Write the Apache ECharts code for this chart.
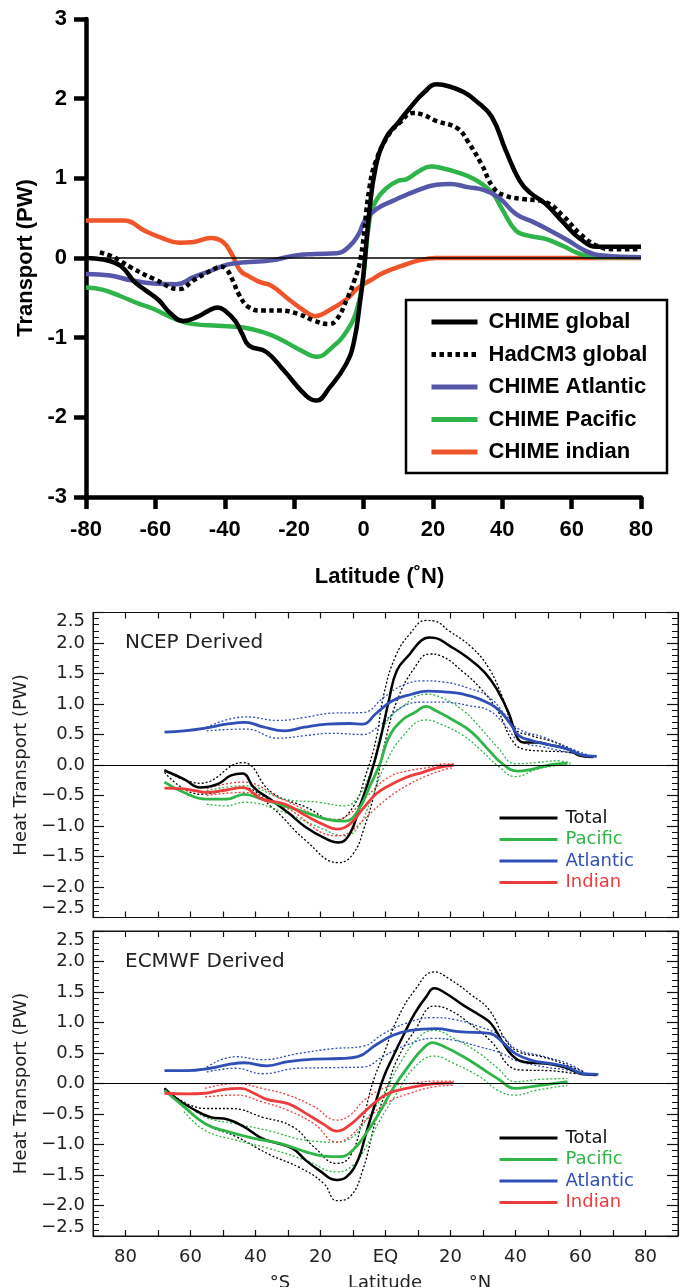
<!DOCTYPE html>
<html>
<head>
<meta charset="utf-8">
<script src="https://cdn.jsdelivr.net/npm/echarts@6/dist/echarts.min.js"></script>
<style>
  html, body { margin: 0; padding: 0; background: #fff; }
  #chart { width: 684px; height: 1287px; }
</style>
</head>
<body>
<div id="chart"></div>
<script>
// ---- top panel: CHIME vs HadCM3, [latitude, PW]
const chimeGlobal = [[-80,0],[-75,-0.02],[-70,-0.1],[-66,-0.3],[-63,-0.4],[-59,-0.53],[-56,-0.68],[-52,-0.79],[-48,-0.74],[-45,-0.67],[-42,-0.62],[-40,-0.66],[-37,-0.79],[-35,-0.95],[-33,-1.1],[-28,-1.18],[-23,-1.41],[-16.5,-1.73],[-13.5,-1.79],[-10,-1.64],[-5,-1.33],[-2.7,-1.04],[-1,-0.55],[0,-0.2],[1.5,0.5],[3.5,1.14],[6.5,1.51],[10,1.7],[13.5,1.89],[17.5,2.08],[21,2.18],[25,2.15],[29,2.08],[32.5,1.97],[37,1.77],[41,1.35],[45,0.97],[48,0.82],[52.5,0.68],[57.5,0.45],[62.5,0.24],[67.5,0.14],[80,0.14]]
const hadcm3Global = [[-76,0.07],[-72,0.01],[-67,-0.12],[-60.5,-0.26],[-53,-0.39],[-49,-0.28],[-44,-0.16],[-41,-0.11],[-39.5,-0.14],[-37.5,-0.3],[-36,-0.45],[-33,-0.62],[-29,-0.66],[-24,-0.66],[-19,-0.7],[-14,-0.79],[-10,-0.83],[-7.7,-0.77],[-4.6,-0.5],[-2.7,-0.29],[-0.8,0],[1.7,0.88],[3.6,1.22],[7.3,1.55],[10.5,1.7],[14.3,1.82],[17,1.8],[21,1.72],[27,1.63],[30,1.47],[34,1.18],[37.5,0.88],[41,0.78],[46,0.74],[52.5,0.7],[57.5,0.53],[62.5,0.3],[67.5,0.15],[72.5,0.11],[80,0.11]]
const chimeAtlantic = [[-80,-0.2],[-73,-0.22],[-67,-0.28],[-60.5,-0.32],[-54,-0.33],[-49,-0.24],[-44,-0.16],[-39,-0.08],[-33,-0.05],[-26.5,-0.03],[-20,0.03],[-14,0.05],[-7.7,0.06],[-4,0.15],[-1.4,0.3],[0.4,0.47],[3.6,0.61],[8.6,0.72],[15,0.84],[21,0.92],[25,0.93],[30,0.89],[35,0.85],[39,0.76],[44,0.55],[49,0.45],[54,0.34],[59,0.22],[64,0.09],[69,0.03],[80,0.01]]
const chimePacific = [[-80,-0.37],[-75,-0.4],[-70,-0.48],[-65,-0.57],[-60.5,-0.64],[-54,-0.77],[-49,-0.83],[-42,-0.85],[-35,-0.87],[-29,-0.93],[-24,-1.02],[-18,-1.16],[-13.5,-1.24],[-9,-1.12],[-5,-0.93],[-2,-0.66],[-0.2,-0.29],[1.7,0.47],[3.6,0.72],[6.7,0.88],[10,0.97],[12.5,0.99],[16,1.09],[19.5,1.15],[22.5,1.13],[27.5,1.07],[32,0.99],[35,0.9],[37.5,0.8],[40,0.61],[44,0.34],[47.5,0.28],[52.5,0.24],[57.5,0.15],[62.5,0.05],[67.5,0.01],[80,0.01]]
const chimeIndian = [[-80,0.47],[-69,0.47],[-63,0.34],[-58,0.25],[-53,0.19],[-49,0.2],[-44,0.25],[-40.5,0.2],[-38,0.05],[-35.5,-0.16],[-33,-0.23],[-30,-0.3],[-26.5,-0.35],[-21.5,-0.52],[-16.5,-0.68],[-14,-0.73],[-10,-0.66],[-5,-0.52],[-1.4,-0.37],[2,-0.28],[6,-0.18],[11,-0.1],[16,-0.03],[21,0],[80,0]]

// ---- middle panel: NCEP derived (mean, upper, lower)
const ncepTot = [[-68,-0.09],[-62,-0.23],[-57,-0.37],[-51.5,-0.31],[-47.5,-0.17],[-44,-0.14],[-40.5,-0.37],[-35,-0.58],[-30,-0.78],[-24.5,-1.02],[-19,-1.19],[-14.5,-1.27],[-11,-1.13],[-8,-0.69],[-4.5,-0.15],[-1.7,0.4],[1,1.05],[3.5,1.55],[7.5,1.82],[11,2.04],[13.5,2.09],[15.5,2.08],[19.5,1.96],[25,1.77],[30.5,1.52],[34.5,1.22],[38,0.84],[40.5,0.45],[42.5,0.37],[46.5,0.37],[50.5,0.33],[56,0.26],[60,0.15],[64,0.13]]
const ncepTotHi = [[-68,-0.08],[-57,-0.3],[-44,0.04],[-35,-0.45],[-24.5,-0.69],[-15.5,-0.91],[-10,-0.69],[-6,-0.15],[-3,0.4],[-0.5,1.16],[3,1.77],[7.5,2.15],[12.5,2.37],[15,2.36],[19.5,2.2],[26.5,1.93],[32,1.57],[36,1.11],[40,0.59],[45,0.48],[50.5,0.4],[56,0.29],[61,0.15]]
const ncepTotLo = [[-68,-0.12],[-57,-0.48],[-44,-0.37],[-35,-0.69],[-24.5,-1.24],[-14.5,-1.6],[-10,-1.46],[-6.5,-1.02],[-3,-0.37],[-0.5,0.29],[3.5,1.05],[9,1.6],[13.5,1.82],[17,1.79],[24,1.52],[29,1.27],[34.5,0.89],[39,0.4],[42.5,0.26],[48,0.23],[56,0.21],[63,0.13]]
const ncepPac = [[-68,-0.28],[-62,-0.45],[-55,-0.56],[-49,-0.56],[-43.5,-0.48],[-38,-0.56],[-31,-0.67],[-24.5,-0.78],[-18,-0.89],[-12.5,-0.92],[-8.5,-0.75],[-4.5,-0.31],[-1.7,0.02],[1,0.45],[5,0.73],[9,0.86],[12.5,0.96],[15.5,0.89],[21,0.73],[26.5,0.54],[32,0.23],[36,0.02],[40.5,-0.1],[45,-0.07],[50.5,0],[56,0.03]]
const ncepPacHi = [[-55,-0.42],[-43.5,-0.34],[-31,-0.56],[-20.5,-0.61],[-12.5,-0.67],[-8.5,-0.53],[-4.5,-0.09],[-0.5,0.62],[5,0.95],[12.5,1.16],[17,1.11],[24,0.89],[29,0.62],[34.5,0.29],[40,0.02],[46.5,0.04],[53,0.07],[57,0.03]]
const ncepPacLo = [[-55,-0.64],[-49,-0.67],[-43.5,-0.61],[-31,-0.78],[-20.5,-1.02],[-12.5,-1.16],[-8.5,-1.02],[-4.5,-0.58],[-0.5,-0.04],[5,0.45],[12.5,0.74],[17,0.67],[24,0.48],[29,0.26],[34.5,-0.01],[40,-0.19],[46.5,-0.07],[53,-0.01],[57,0]]
const ncepAtl = [[-68,0.54],[-62,0.56],[-55,0.61],[-49,0.67],[-43,0.7],[-38,0.63],[-31,0.56],[-25,0.62],[-18,0.67],[-11,0.68],[-7,0.67],[-3,0.84],[2,1.05],[8,1.16],[13,1.21],[18,1.2],[24,1.16],[29,1.08],[34.5,0.92],[38.5,0.67],[41,0.48],[45,0.4],[50.5,0.33],[56,0.26],[60,0.17],[65,0.14]]
const ncepAtlHi = [[-55,0.62],[-43,0.79],[-33,0.73],[-25,0.78],[-16.5,0.85],[-7,0.86],[-0.5,1.11],[5,1.3],[11.5,1.38],[18,1.36],[26,1.25],[32,1.11],[37,0.81],[41,0.59],[49,0.45],[56,0.29],[63,0.15]]
const ncepAtlLo = [[-55,0.56],[-43,0.59],[-33,0.44],[-25,0.48],[-16.5,0.52],[-7,0.5],[-2,0.64],[5,0.95],[11.5,1.03],[18,1.03],[26,0.97],[32,0.89],[37,0.64],[41,0.4],[49,0.29],[56,0.21],[63,0.13]]
const ncepInd = [[-68,-0.38],[-62,-0.39],[-55,-0.45],[-49,-0.41],[-44,-0.37],[-38,-0.56],[-31,-0.64],[-24.5,-0.83],[-19,-0.98],[-15,-1.05],[-11,-0.97],[-7,-0.72],[-3,-0.48],[1,-0.34],[6.5,-0.2],[11.5,-0.12],[15.5,-0.05],[21,0]]
const ncepIndHi = [[-55,-0.39],[-44,-0.28],[-31,-0.58],[-15,-0.89],[-11,-0.8],[-6,-0.53],[1,-0.2],[7.5,-0.09],[13,-0.04],[18.5,0.02],[21,0.02]]
const ncepIndLo = [[-55,-0.5],[-44,-0.45],[-31,-0.69],[-15,-1.16],[-11,-1.1],[-6,-0.86],[1,-0.53],[7.5,-0.31],[13,-0.17],[18.5,-0.07],[21,-0.04]]

// ---- bottom panel: ECMWF derived
const ecTot = [[-68,-0.08],[-65,-0.22],[-59.5,-0.41],[-54,-0.55],[-48.5,-0.59],[-43.5,-0.71],[-38,-0.9],[-34,-0.97],[-28.5,-1.07],[-24.5,-1.26],[-20.5,-1.42],[-15,-1.58],[-12,-1.53],[-8.5,-1.26],[-6,-0.82],[-3,-0.3],[-0.5,0.11],[2.3,0.44],[5.5,0.79],[9,1.15],[12.5,1.42],[15,1.56],[18.5,1.48],[24,1.28],[29,1.12],[32.5,0.98],[36,0.68],[38.5,0.49],[41,0.38],[45,0.34],[50.5,0.32],[56,0.25],[61,0.15],[65,0.14]]
const ecTotHi = [[-68,-0.08],[-55.5,-0.41],[-47.5,-0.41],[-38,-0.55],[-28.5,-0.71],[-22,-1.04],[-15,-1.31],[-11,-1.2],[-7,-0.6],[-4,0],[-0.5,0.49],[3.5,1.04],[9,1.53],[15,1.83],[19.5,1.72],[26.5,1.45],[32,1.2],[37,0.71],[41,0.52],[48,0.44],[54.5,0.33],[61,0.19]]
const ecTotLo = [[-68,-0.1],[-55.5,-0.66],[-46,-0.87],[-35.5,-1.17],[-26,-1.39],[-19,-1.64],[-15,-1.92],[-11,-1.86],[-7,-1.42],[-3,-0.6],[0.3,-0.11],[3.5,0.38],[9,0.87],[15,1.27],[19.5,1.21],[26.5,0.96],[33,0.66],[38.5,0.27],[42.5,0.22],[50.5,0.21],[58.5,0.16]]
const ecPac = [[-68,-0.11],[-62,-0.38],[-55.5,-0.66],[-48.5,-0.79],[-40.5,-0.9],[-32.5,-0.98],[-24.5,-1.12],[-19,-1.19],[-14,-1.2],[-10,-1.09],[-6,-0.82],[-1.7,-0.46],[2.3,-0.08],[7.7,0.33],[11.5,0.57],[14.5,0.67],[17,0.63],[24,0.44],[29,0.27],[34.5,0.08],[40,-0.08],[45,-0.05],[50.5,-0.01],[56,0.03]]
const ecPacHi = [[-62,-0.3],[-55.5,-0.55],[-46,-0.66],[-35.5,-0.78],[-24.5,-0.93],[-15,-0.96],[-10,-0.87],[-6,-0.6],[-0.5,-0.16],[5,0.38],[10.5,0.77],[15,0.87],[21,0.74],[29,0.49],[34.5,0.25],[40,0.03],[48,0.07],[56,0.08]]
const ecPacLo = [[-62,-0.46],[-55.5,-0.77],[-46,-0.93],[-35.5,-1.07],[-24.5,-1.26],[-15,-1.45],[-10,-1.34],[-6,-1.04],[-1.7,-0.6],[3.5,-0.16],[9,0.27],[15,0.45],[21,0.33],[29,0.11],[34.5,-0.11],[40,-0.19],[46.5,-0.11],[56,-0.03]]
const ecAtl = [[-68,0.21],[-61,0.21],[-54,0.25],[-47.5,0.32],[-43.5,0.34],[-36.5,0.29],[-30,0.36],[-22,0.4],[-14,0.41],[-8.5,0.44],[-3,0.63],[2.3,0.79],[7.7,0.87],[15.5,0.9],[22.5,0.85],[32,0.82],[36,0.68],[40,0.49],[45,0.38],[50.5,0.33],[56,0.27],[61,0.16],[65.5,0.15]]
const ecAtlHi = [[-55,0.27],[-46,0.44],[-38,0.39],[-27,0.49],[-16.5,0.57],[-7,0.61],[-0.5,0.82],[6.5,0.99],[14.5,1.08],[21,1.05],[29,0.93],[36,0.77],[40,0.57],[49,0.44],[56,0.33],[61,0.19]]
const ecAtlLo = [[-55,0.19],[-46,0.25],[-38,0.16],[-27,0.25],[-16.5,0.26],[-7,0.27],[-0.5,0.45],[6.5,0.63],[14.5,0.74],[21,0.71],[29,0.6],[36,0.49],[40,0.38],[49,0.27],[56,0.22],[61,0.14]]
const ecInd = [[-68,-0.16],[-61,-0.17],[-55.5,-0.16],[-50,-0.1],[-44.5,-0.08],[-40.5,-0.16],[-36.5,-0.26],[-30,-0.33],[-24.5,-0.49],[-19,-0.67],[-15,-0.78],[-11,-0.68],[-7,-0.49],[-3,-0.3],[1,-0.16],[6.5,-0.08],[11.5,-0.03],[15.5,0],[21,0.01]]
const ecIndHi = [[-55.5,-0.08],[-46,0],[-38,-0.08],[-30,-0.19],[-22,-0.38],[-15,-0.6],[-11,-0.52],[-6,-0.25],[1,-0.05],[7.5,0],[15.5,0.04],[21,0.04]]
const ecIndLo = [[-55.5,-0.22],[-46,-0.19],[-38,-0.3],[-30,-0.44],[-22,-0.66],[-15,-0.96],[-11,-0.87],[-6,-0.6],[1,-0.3],[7.5,-0.16],[15.5,-0.05],[21,-0.03]]

// tick labels
const latTicks = [-80, -60, -40, -20, 0, 20, 40, 60, 80]
const latLabels = ['80', '60', '40', '20', 'EQ', '20', '40', '60', '80']
const pwTicks = [-2.5, -2, -1.5, -1, -0.5, 0, 0.5, 1, 1.5, 2, 2.5]
const pwLabels = ['\u22122.5', '\u22122.0', '\u22121.5', '\u22121.0', '\u22120.5', '0.0', '0.5', '1.0', '1.5', '2.0', '2.5']

const C = {
    black: '#000',
    atlTop: '#5657a8',
    pacTop: '#2fb34b',
    indTop: '#f0552a',
    blue: '#2f4fb6',
    green: '#2fb548',
    red: '#ee3b3b'
}
const boldFont = "'Liberation Sans', Arial, sans-serif"
const idlFont = "'DejaVu Sans', sans-serif"
// hide the round marker ECharts puts on line legend icons
const noMarker = { color: 'transparent', borderColor: 'transparent', borderWidth: 0 }

let chart = echarts.init(document.getElementById('chart'), null, { renderer: 'canvas' })

function mkLine (name, data, axis, color, width, dash, z) {
    return {
        type: 'line',
        name: name,
        data: data,
        xAxisIndex: axis,
        yAxisIndex: axis,
        symbol: 'none',
        showSymbol: false,
        smooth: 0.45,
        silent: true,
        z: z || 2,
        lineStyle: { color: color, width: width, type: dash || 'solid', cap: 'butt', join: 'round' },
        itemStyle: { color: color }
    }
}

function zeroLine (axis, width) {
    return {
        type: 'line',
        data: [],
        xAxisIndex: axis,
        yAxisIndex: axis,
        silent: true,
        markLine: {
            silent: true,
            symbol: 'none',
            label: { show: false },
            lineStyle: { color: '#000', width: width, type: 'solid' },
            data: [{ yAxis: 0 }]
        }
    }
}

// lower two panels share one style of x axis
function latAxis (grid, pos, showLabels) {
    return {
        type: 'value', gridIndex: grid, position: pos, min: -90, max: 90, interval: 10,
        axisLine: { onZero: false, lineStyle: { color: '#111', width: 1 } },
        axisTick: { inside: true, length: 6, lineStyle: { color: '#111', width: 1.2 } },
        axisLabel: {
            show: showLabels, margin: 12, color: '#222', fontFamily: idlFont, fontSize: 18,
            formatter: function (v) {
                let i = latTicks.indexOf(v)
                return i >= 0 ? latLabels[i] : ''
            }
        },
        splitLine: { show: false }
    }
}

function pwAxis (grid, pos, showLabels) {
    return {
        type: 'value', gridIndex: grid, position: pos, min: -2.5, max: 2.5, interval: 0.5,
        axisLine: { onZero: false, lineStyle: { color: '#111', width: 1 } },
        axisTick: { inside: true, length: 11, lineStyle: { color: '#111', width: 1.2 } },
        minorTick: { show: true, splitNumber: 5, length: 6, lineStyle: { color: '#111', width: 1 } },
        axisLabel: {
            show: showLabels, margin: 8, color: '#222', fontFamily: idlFont, fontSize: 18,
            verticalAlignMaxLabel: 'top', verticalAlignMinLabel: 'bottom',
            formatter: function (v) {
                let i = pwTicks.findIndex(t => Math.abs(t - v) < 1e-6)
                return i >= 0 ? pwLabels[i] : ''
            }
        },
        name: showLabels ? 'Heat Transport (PW)' : '',
        nameLocation: 'middle', nameRotate: 90, nameGap: 60,
        nameTextStyle: { fontFamily: idlFont, fontSize: 18, color: '#222' },
        splitLine: { show: false }
    }
}

function basinLegend (top) {
    return {
        left: 493, top: top, orient: 'vertical',
        itemWidth: 58, itemHeight: 20, itemGap: 1.5,
        itemStyle: noMarker,
        lineStyle: { width: 3 },
        textStyle: { fontFamily: idlFont, fontSize: 18, lineHeight: 20, color: '#111', padding: [0, 0, 0, 3] },
        data: [
            { name: 'Total' },
            { name: 'Pacific', textStyle: { color: C.green } },
            { name: 'Atlantic', textStyle: { color: C.blue } },
            { name: 'Indian', textStyle: { color: C.red } }
        ]
    }
}

const gridBox = { show: true, borderColor: '#111', borderWidth: 1, backgroundColor: 'transparent' }

chart.setOption({
    animation: false,
    backgroundColor: '#fff',
    grid: [
        { left: 86, top: 19, width: 555, height: 478 },
        Object.assign({ left: 93, top: 612.5, width: 585, height: 305 }, gridBox),
        Object.assign({ left: 93, top: 931, width: 585, height: 305 }, gridBox)
    ],
    xAxis: [
        {
            type: 'value', gridIndex: 0, min: -80, max: 80, interval: 20,
            axisLine: { onZero: false, lineStyle: { color: '#000', width: 4.5 } },
            axisTick: { length: 12, lineStyle: { color: '#000', width: 4.5 } },
            axisLabel: { margin: 22, color: '#000', fontFamily: boldFont, fontWeight: 'bold', fontSize: 22 },
            splitLine: { show: false },
            name: 'Latitude (\u02daN)', nameLocation: 'middle', nameGap: 69,
            nameTextStyle: { color: '#000', fontFamily: boldFont, fontWeight: 'bold', fontSize: 22, padding: [0, 0, 0, 32] }
        },
        latAxis(1, 'bottom', false),
        latAxis(2, 'bottom', true),
        latAxis(1, 'top', false),
        latAxis(2, 'top', false)
    ],
    yAxis: [
        {
            type: 'value', gridIndex: 0, min: -3, max: 3, interval: 1,
            axisLine: { onZero: false, lineStyle: { color: '#000', width: 4.5 } },
            axisTick: { length: 12, lineStyle: { color: '#000', width: 4.5 } },
            axisLabel: { margin: 19, color: '#000', fontFamily: boldFont, fontWeight: 'bold', fontSize: 22 },
            splitLine: { show: false },
            name: 'Transport (PW)', nameLocation: 'middle', nameRotate: 90, nameGap: 43,
            nameTextStyle: { color: '#000', fontFamily: boldFont, fontWeight: 'bold', fontSize: 22 }
        },
        pwAxis(1, 'left', true),
        pwAxis(2, 'left', true),
        pwAxis(1, 'right', false),
        pwAxis(2, 'right', false)
    ],
    legend: [
        {
            left: 424, top: 306, orient: 'vertical',
            itemWidth: 46, itemHeight: 22, itemGap: 10.5,
            itemStyle: noMarker,
            lineStyle: { width: 5 },
            textStyle: { fontFamily: boldFont, fontWeight: 'bold', fontSize: 22, lineHeight: 22, color: '#000', padding: [0, 0, 0, 6] },
            data: ['CHIME global', 'HadCM3 global', 'CHIME Atlantic', 'CHIME Pacific', 'CHIME indian']
        },
        basinLegend(803),
        basinLegend(1123)
    ],
    graphic: [
        { type: 'rect', shape: { x: 406, y: 300, width: 261, height: 173 }, style: { fill: 'none', stroke: '#000', lineWidth: 2.5 }, z: 10 },
        { type: 'text', x: 125, y: 643, style: { text: 'NCEP Derived', fontFamily: idlFont, fontSize: 20, fill: '#222', verticalAlign: 'middle' } },
        { type: 'text', x: 125, y: 962, style: { text: 'ECMWF Derived', fontFamily: idlFont, fontSize: 20, fill: '#222', verticalAlign: 'middle' } },
        { type: 'text', x: 280, y: 1283, style: { text: '\u00b0S', fontFamily: idlFont, fontSize: 18, fill: '#222', align: 'center', verticalAlign: 'middle' } },
        { type: 'text', x: 385, y: 1283, style: { text: 'Latitude', fontFamily: idlFont, fontSize: 18, fill: '#222', align: 'center', verticalAlign: 'middle' } },
        { type: 'text', x: 480, y: 1283, style: { text: '\u00b0N', fontFamily: idlFont, fontSize: 18, fill: '#222', align: 'center', verticalAlign: 'middle' } }
    ],
    series: [
        zeroLine(0, 1.5),
        mkLine('CHIME indian', chimeIndian, 0, C.indTop, 4.5),
        mkLine('CHIME Pacific', chimePacific, 0, C.pacTop, 4.5),
        mkLine('CHIME Atlantic', chimeAtlantic, 0, C.atlTop, 4.5),
        mkLine('HadCM3 global', hadcm3Global, 0, C.black, 4.5, [4.5, 3.5]),
        mkLine('CHIME global', chimeGlobal, 0, C.black, 4.5),

        zeroLine(1, 1.2),
        mkLine('', ncepTotHi, 1, C.black, 1.3, [2, 2]),
        mkLine('', ncepTotLo, 1, C.black, 1.3, [2, 2]),
        mkLine('', ncepPacHi, 1, C.green, 1.3, [2, 2]),
        mkLine('', ncepPacLo, 1, C.green, 1.3, [2, 2]),
        mkLine('', ncepAtlHi, 1, C.blue, 1.3, [2, 2]),
        mkLine('', ncepAtlLo, 1, C.blue, 1.3, [2, 2]),
        mkLine('', ncepIndHi, 1, C.red, 1.3, [2, 2]),
        mkLine('', ncepIndLo, 1, C.red, 1.3, [2, 2]),
        mkLine('Total', ncepTot, 1, C.black, 2.5, null, 3),
        mkLine('Pacific', ncepPac, 1, C.green, 2.8, null, 3),
        mkLine('Atlantic', ncepAtl, 1, C.blue, 2.8, null, 3),
        mkLine('Indian', ncepInd, 1, C.red, 2.8, null, 3),

        zeroLine(2, 1.2),
        mkLine('', ecTotHi, 2, C.black, 1.3, [2, 2]),
        mkLine('', ecTotLo, 2, C.black, 1.3, [2, 2]),
        mkLine('', ecPacHi, 2, C.green, 1.3, [2, 2]),
        mkLine('', ecPacLo, 2, C.green, 1.3, [2, 2]),
        mkLine('', ecAtlHi, 2, C.blue, 1.3, [2, 2]),
        mkLine('', ecAtlLo, 2, C.blue, 1.3, [2, 2]),
        mkLine('', ecIndHi, 2, C.red, 1.3, [2, 2]),
        mkLine('', ecIndLo, 2, C.red, 1.3, [2, 2]),
        mkLine('Total', ecTot, 2, C.black, 2.5, null, 3),
        mkLine('Pacific', ecPac, 2, C.green, 2.8, null, 3),
        mkLine('Atlantic', ecAtl, 2, C.blue, 2.8, null, 3),
        mkLine('Indian', ecInd, 2, C.red, 2.8, null, 3)
    ]
})

window.addEventListener('resize', function () { chart.resize() })
</script>
</body>
</html>
